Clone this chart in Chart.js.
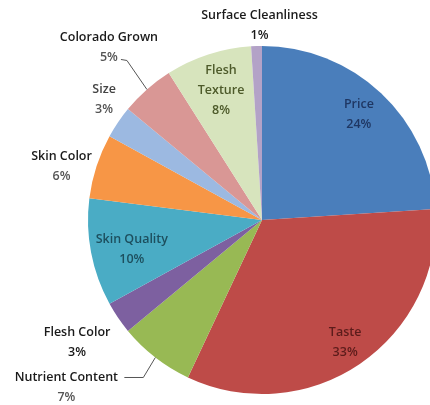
<!DOCTYPE html>
<html>
<head>
<meta charset="utf-8">
<script src="https://cdn.jsdelivr.net/npm/chart.js@4/dist/chart.umd.min.js"></script>
<style>
    html,body{margin:0;padding:0;background:#fff;}
    #wrap{width:430px;height:405px;overflow:hidden;position:relative;}
    #pie{position:absolute;left:0;top:0;}
</style>
</head>
<body>
<div id="wrap"><canvas id="pie" width="440" height="405"></canvas></div>
<script>
// slices, clockwise from 12 o'clock
var categories = ["Price","Taste","Nutrient Content","Flesh Color","Skin Quality",
                  "Skin Color","Size","Colorado Grown","Flesh Texture","Surface Cleanliness"];
var shares = [24, 33, 7, 3, 10, 6, 3, 5, 8, 1];
var pct_labels = ["24%","33%","7%","3%","10%","6%","3%","5%","8%","1%"];

var slice_colors = ["#4a7ebb","#be4b48","#98b954","#7d60a0","#4aacc5",
                    "#f79646","#9cb9e1","#d99795","#d7e4bd","#b3a2c7"];

// label layout: name lines, radial factor, pixel shift, colours, leader line
var label_style = [
    {lines:["Price"], f:0.83, dx:-2, dy:0, color:"#1f3763", pct:"#1f3763"},
    {lines:["Taste"], f:0.85, dx:0, dy:0, color:"#5c1c1b", pct:"#5c1c1b"},
    {lines:["Nutrient Content"], f:1, dx:-89, dy:30, color:"#1a1a1a", pct:"#555", leader:[[-12,20],[-31,20]]},
    {lines:["Flesh Color"], f:1, dx:-41, dy:25, color:"#1a1a1a", pct:"#1a1a1a"},
    {lines:["Skin Quality"], f:0.75, dx:-2, dy:5, color:"#1d4f5e", pct:"#1d4f5e"},
    {lines:["Skin Color"], f:1, dx:-35, dy:0, color:"#1a1a1a", pct:"#555"},
    {lines:["Size"], f:1, dx:-14, dy:-23, color:"#444", pct:"#555"},
    {lines:["Colorado Grown"], f:1, dx:-38, dy:-42, color:"#1a1a1a", pct:"#555", leader:[[-20,-29],[-26,-30]]},
    {lines:["Flesh","Texture"], f:0.78, dx:1, dy:0, color:"#4d5a2a", pct:"#4d5a2a"},
    {lines:["Surface Cleanliness"], f:1, dx:3, dy:-21, color:"#1a1a1a", pct:"#1a1a1a"},
];

var LINE_H = 20;

const sliceLabels = {
    id: "sliceLabels",
    afterDraw(chart){
        const ctx = chart.ctx;
        const arcs = chart.getDatasetMeta(0).data;
        ctx.save();
        ctx.textAlign = "center";
        ctx.textBaseline = "middle";
        ctx.font = "600 12.5px 'Open Sans', sans-serif";
        for(let i=0;i<arcs.length;i++){
            const a = arcs[i];
            const st = label_style[i];
            const mid = (a.startAngle + a.endAngle)/2;
            const ex = a.x + Math.cos(mid)*a.outerRadius;
            const ey = a.y + Math.sin(mid)*a.outerRadius;
            const px = a.x + Math.cos(mid)*a.outerRadius*st.f + st.dx;
            const py = a.y + Math.sin(mid)*a.outerRadius*st.f + st.dy;
            if(st.leader){
                ctx.strokeStyle = "#555";
                ctx.lineWidth = 1;
                ctx.beginPath();
                ctx.moveTo(ex, ey);
                for(const p of st.leader){ ctx.lineTo(ex+p[0], ey+p[1]); }
                ctx.stroke();
            }
            const all = st.lines.concat([pct_labels[i]]);
            const y0 = py - (all.length-1)*LINE_H/2;
            for(let k=0;k<all.length;k++){
                ctx.fillStyle = (k===all.length-1) ? st.pct : st.color;
                ctx.fillText(all[k], px, y0 + k*LINE_H);
            }
        }
        ctx.restore();
    }
};

new Chart(document.getElementById("pie"), {
    type: "pie",
    data: {
        labels: categories,
        datasets: [{
            data: shares,
            backgroundColor: slice_colors,
            borderWidth: 0,
            hoverOffset: 0,
        }],
    },
    options: {
        responsive: false,
        animation: false,
        devicePixelRatio: 1,
        layout: {padding: {left: 88, right: 4, top: 46, bottom: 11}},
        plugins: {
            legend: {display: false},
            tooltip: {enabled: false},
        },
    },
    plugins: [sliceLabels],
});
</script>
</body>
</html>
